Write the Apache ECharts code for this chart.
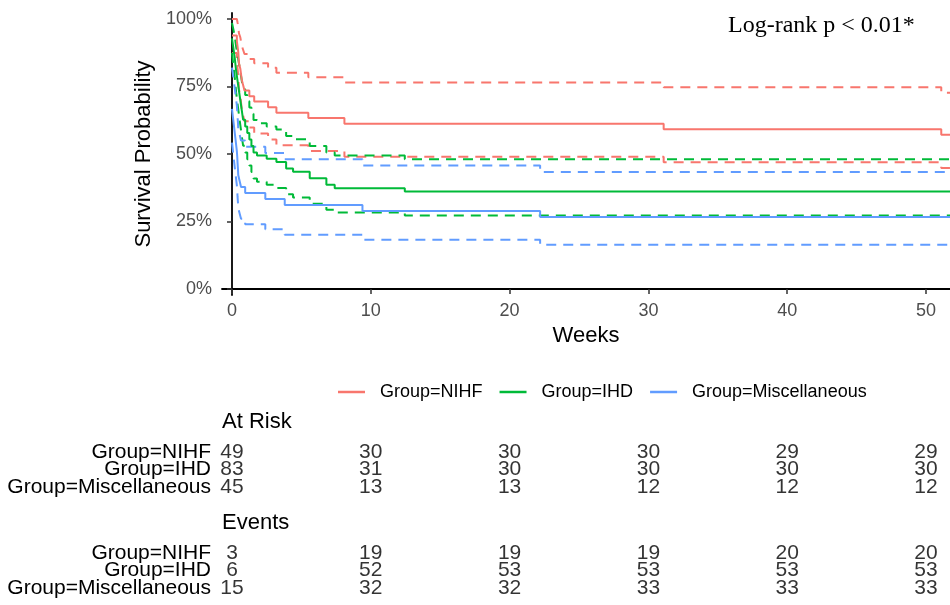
<!DOCTYPE html>
<html>
<head>
<meta charset="utf-8">
<script src="https://cdn.jsdelivr.net/npm/echarts@6/dist/echarts.min.js"></script>
<style>
html,body{margin:0;padding:0;background:#fff;}
#chart{width:950px;height:605px;}
</style>
</head>
<body>
<div id="chart"></div>
<script>
// ---- Kaplan-Meier step data (weeks, survival %) ----
const nihfTime  = [0, 0.35, 0.4, 0.45, 0.5, 0.6, 0.7, 0.8, 0.9, 1.25, 1.6, 2.6, 3.2, 5.5, 8.1, 31.1, 51.1];
const nihfSurv  = [93.9, 91.8, 89.8, 87.8, 83.7, 81.6, 77.6, 75.5, 73.5, 71.4, 69.4, 67.3, 65.3, 63.3, 61.2, 59.2, 57.1];
const nihfLower = [87.4, 84.5, 81.7, 79.1, 74.0, 71.5, 66.7, 64.3, 62.1, 59.8, 57.6, 55.4, 53.2, 51.1, 49.0, 46.9, 44.8];
const nihfUpper = [100, 99.8, 98.7, 97.5, 94.7, 93.2, 90.2, 88.6, 87.0, 85.2, 83.6, 81.9, 80.1, 78.4, 76.5, 74.7, 72.7];

const ihdTime  = [0, 0.1, 0.2, 0.3, 0.4, 0.5, 0.6, 0.7, 0.8, 0.95, 1.1, 1.25, 1.4, 1.55, 1.8, 2.5, 3.2, 3.9, 4.4, 5.6, 6.8, 7.4, 12.45];
const ihdSurv  = [92.8, 89.2, 85.5, 80.7, 77.1, 73.5, 69.9, 66.3, 62.7, 60.2, 57.8, 55.4, 53.0, 50.6, 49.4, 48.2, 47.0, 44.6, 43.4, 41.0, 38.6, 37.3, 36.1];
const ihdLower = [87.4, 82.7, 78.3, 72.7, 68.6, 64.6, 60.7, 56.8, 53.1, 50.6, 48.1, 45.7, 43.3, 40.9, 39.7, 38.6, 37.4, 35.1, 33.9, 31.6, 29.4, 28.3, 27.2];
const ihdUpper = [98.5, 96.1, 93.5, 89.7, 86.7, 83.6, 80.5, 77.3, 74.0, 71.8, 69.5, 67.2, 64.9, 62.6, 61.4, 60.2, 59.1, 56.7, 55.5, 53.0, 50.6, 49.4, 48.1];

const miscTime  = [0, 0.05, 0.1, 0.15, 0.2, 0.25, 0.3, 0.35, 0.38, 0.4, 0.43, 0.45, 0.55, 0.65, 0.95, 2.4, 3.8, 9.4, 22.2];
const miscSurv  = [66.7, 64.4, 62.2, 60.0, 57.8, 55.6, 53.3, 51.1, 48.9, 46.7, 44.4, 42.2, 40.0, 37.8, 35.6, 33.3, 31.1, 28.9, 26.7];
const miscLower = [54.2, 51.9, 49.6, 47.3, 45.0, 42.8, 40.6, 38.4, 36.3, 34.2, 32.1, 30.0, 28.0, 26.0, 24.0, 22.1, 20.1, 18.3, 16.4];
const miscUpper = [82.0, 80.1, 78.1, 76.2, 74.2, 72.2, 70.1, 68.0, 65.9, 63.8, 61.6, 59.4, 57.2, 55.0, 52.7, 50.4, 48.1, 45.7, 43.3];

// ---- Risk table ----
const groupNames  = ['Group=NIHF', 'Group=IHD', 'Group=Miscellaneous'];
const tableTimes  = [0, 10, 20, 30, 40, 50];
const atRiskNIHF  = [49, 30, 30, 30, 29, 29];
const atRiskIHD   = [83, 31, 30, 30, 30, 30];
const atRiskMisc  = [45, 13, 13, 12, 12, 12];
const eventsNIHF  = [3, 19, 19, 19, 20, 20];
const eventsIHD   = [6, 52, 53, 53, 53, 53];
const eventsMisc  = [15, 32, 32, 33, 33, 33];

const xTicks = [0, 10, 20, 30, 40, 50];
const yTicks = [0, 25, 50, 75, 100];

// ---- build ----
const X_MIN = -0.72, X_MAX = 51.73;
const FONT = "'Liberation Sans', Arial, Helvetica, sans-serif";
const groups = [
  {name: groupNames[0], color: '#F8766D', t: nihfTime, s: nihfSurv, lo: nihfLower, up: nihfUpper},
  {name: groupNames[1], color: '#00BA38', t: ihdTime,  s: ihdSurv,  lo: ihdLower,  up: ihdUpper},
  {name: groupNames[2], color: '#619CFF', t: miscTime, s: miscSurv, lo: miscLower, up: miscUpper}
];
function steps(times, vals) {
  const d = [];
  times.forEach((t, i) => d.push([t, vals[i]]));
  d.push([X_MAX + 1, vals[vals.length - 1]]);
  return d;
}
const series = [];
groups.forEach(g => {
  [['lower', g.lo], ['upper', g.up]].forEach(([k, arr]) => {
    series.push({
      name: g.name + ' ' + k, type: 'line', step: 'end', showSymbol: false, symbol: 'none',
      xAxisIndex: 0, yAxisIndex: 0, clip: true, silent: true, color: g.color,
      lineStyle: {color: g.color, width: 2, type: [10, 7]},
      data: steps(g.t, arr), z: 2
    });
  });
});
groups.forEach(g => {
  series.push({
    name: g.name, type: 'line', step: 'end', showSymbol: false, symbol: 'none',
    xAxisIndex: 0, yAxisIndex: 0, clip: true, silent: true, color: g.color,
    itemStyle: {color: g.color},
    lineStyle: {color: g.color, width: 2},
    data: steps(g.t, g.s), z: 3
  });
});
function tableSeries(idx, rows) {
  const data = [];
  rows.forEach((row, r) => row.forEach((v, c) => data.push([tableTimes[c], groupNames[r], v])));
  return {
    type: 'scatter', xAxisIndex: idx, yAxisIndex: idx, symbolSize: 1, silent: true,
    itemStyle: {color: 'rgba(0,0,0,0)'},
    label: {show: true, position: 'inside', formatter: p => String(p.value[2]),
            fontSize: 21, color: '#000', fontFamily: FONT},
    data: data
  };
}
series.push(tableSeries(1, [atRiskNIHF, atRiskIHD, atRiskMisc]));
series.push(tableSeries(2, [eventsNIHF, eventsIHD, eventsMisc]));

const hiddenX = i => ({type: 'value', gridIndex: i, min: X_MIN, max: X_MAX, show: false});
const catY = i => ({
  type: 'category', gridIndex: i, inverse: true, data: groupNames,
  axisLine: {show: false}, axisTick: {show: false}, splitLine: {show: false},
  axisLabel: {interval: 0, fontSize: 21, color: '#000', margin: 11, fontFamily: FONT}
});

const option = {
  animation: false,
  textStyle: {fontFamily: FONT},
  title: [
    {text: 'Log-rank p < 0.01*', left: 728, top: 14, padding: 0,
     textStyle: {fontFamily: "'Liberation Serif', 'Times New Roman', serif", fontSize: 24, fontWeight: 'normal', color: '#000'}},
    {text: 'At Risk', left: 222, top: 411, padding: 0,
     textStyle: {fontFamily: FONT, fontSize: 22, fontWeight: 'normal', color: '#000'}},
    {text: 'Events', left: 222, top: 512, padding: 0,
     textStyle: {fontFamily: FONT, fontSize: 22, fontWeight: 'normal', color: '#000'}}
  ],
  legend: {
    data: groupNames, left: 333, top: 378, itemGap: 17, itemWidth: 27, itemHeight: 2.5, icon: 'rect',
    selectedMode: false,
    textStyle: {fontSize: 18, color: '#000', fontFamily: FONT, padding: [0, 0, 0, 10]}
  },
  grid: [
    {left: 222, right: 0, top: 13, bottom: 310},
    {left: 222, right: 0, top: 443.2, height: 53},
    {left: 222, right: 0, top: 544.2, height: 53}
  ],
  xAxis: [
    {type: 'value', gridIndex: 0, min: X_MIN, max: X_MAX,
     name: 'Weeks', nameLocation: 'middle', nameGap: 30,
     nameTextStyle: {fontSize: 22, color: '#000', fontFamily: FONT},
     axisLine: {show: true, lineStyle: {color: '#000', width: 1.8}},
     axisTick: {show: true, length: 5, customValues: xTicks, lineStyle: {color: '#333', width: 1.5}},
     axisLabel: {customValues: xTicks, fontSize: 18, color: '#4D4D4D', margin: 7, fontFamily: FONT},
     splitLine: {show: false}},
    hiddenX(1), hiddenX(2)
  ],
  yAxis: [
    {type: 'value', gridIndex: 0, min: -2.2, max: 102.2,
     name: 'Survival Probability', nameLocation: 'middle', nameGap: 63,
     nameTextStyle: {fontSize: 22, color: '#000', fontFamily: FONT},
     axisLine: {show: true, lineStyle: {color: '#000', width: 1.8}},
     axisTick: {show: true, length: 5, customValues: yTicks, lineStyle: {color: '#333', width: 1.5}},
     axisLabel: {customValues: yTicks, fontSize: 18, color: '#4D4D4D', margin: 10, fontFamily: FONT,
                 formatter: v => v + '%'},
     splitLine: {show: false}},
    catY(1), catY(2)
  ],
  series: series
};
const chart = echarts.init(document.getElementById('chart'), null, {renderer: 'canvas'});
chart.setOption(option);
</script>
</body>
</html>
